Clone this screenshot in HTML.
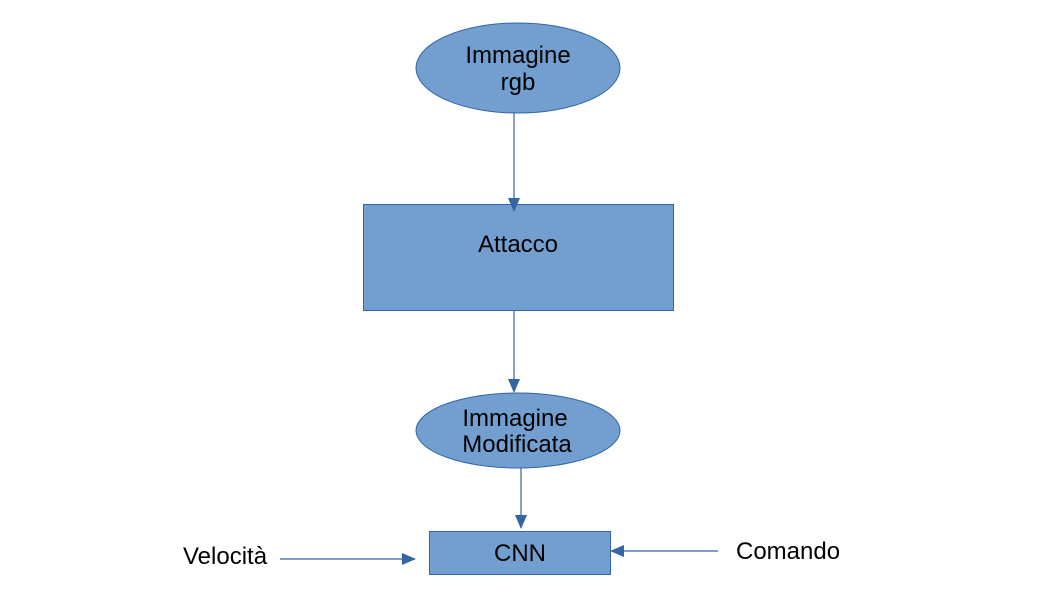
<!DOCTYPE html>
<html><head><meta charset="utf-8"><style>body{margin:0;background:#fff}</style></head><body>
<svg width="1058" height="595" xmlns="http://www.w3.org/2000/svg" font-family="Liberation Sans, sans-serif" font-size="24" fill="#000">
<defs><marker id="a" markerWidth="14" markerHeight="12" refX="13" refY="6" orient="auto" markerUnits="userSpaceOnUse"><path d="M0,0 L14,6 L0,12 z" fill="#3465a4"/></marker></defs>
<rect width="1058" height="595" fill="#fff"/>
<ellipse cx="518" cy="68" rx="102" ry="45" fill="#729fcf" stroke="#3465a4"/>
<text x="518" y="63" text-anchor="middle">Immagine</text>
<text x="518" y="90" text-anchor="middle">rgb</text>
<rect x="363.5" y="204.5" width="310" height="106" fill="#729fcf" stroke="#3465a4"/>
<line x1="514" y1="113" x2="514" y2="211" stroke="#3465a4" stroke-width="1.2" marker-end="url(#a)"/>
<text x="518" y="252" text-anchor="middle">Attacco</text>
<line x1="514" y1="311" x2="514" y2="392" stroke="#3465a4" stroke-width="1.2" marker-end="url(#a)"/>
<ellipse cx="518" cy="430.5" rx="102" ry="37.5" fill="#729fcf" stroke="#3465a4"/>
<text x="515" y="426" text-anchor="middle">Immagine</text>
<text x="517" y="452" text-anchor="middle">Modificata</text>
<line x1="521" y1="468" x2="521" y2="528" stroke="#3465a4" stroke-width="1.2" marker-end="url(#a)"/>
<rect x="429.5" y="531.5" width="181" height="43" fill="#729fcf" stroke="#3465a4"/>
<text x="520" y="561" text-anchor="middle">CNN</text>
<text x="183" y="564">Velocità</text>
<line x1="280" y1="559" x2="415" y2="559" stroke="#3465a4" stroke-width="1.2" marker-end="url(#a)"/>
<text x="736" y="559">Comando</text>
<line x1="718" y1="551" x2="611" y2="551" stroke="#3465a4" stroke-width="1.2" marker-end="url(#a)"/>
</svg>
</body></html>
